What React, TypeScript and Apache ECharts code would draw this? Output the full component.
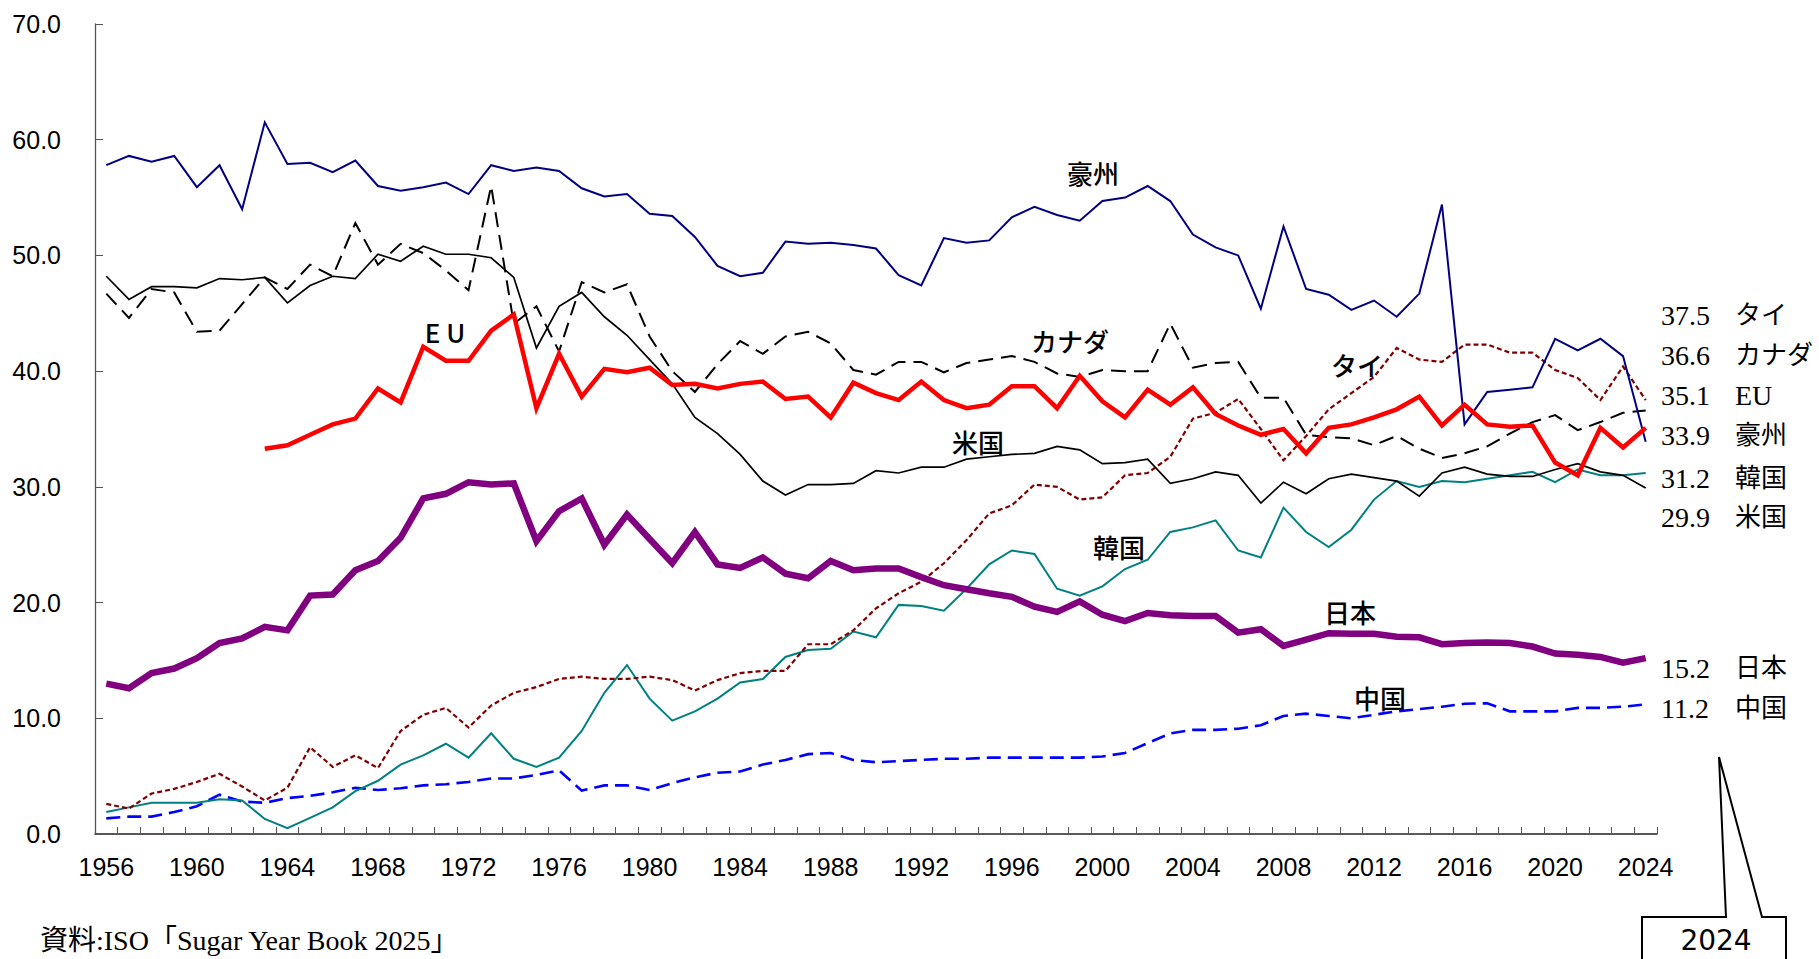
import React, { useEffect, useRef } from "react";
import * as echarts from "echarts";

const years = [
  "1956","1957","1958","1959","1960","1961","1962","1963","1964","1965",
  "1966","1967","1968","1969","1970","1971","1972","1973","1974","1975",
  "1976","1977","1978","1979","1980","1981","1982","1983","1984","1985",
  "1986","1987","1988","1989","1990","1991","1992","1993","1994","1995",
  "1996","1997","1998","1999","2000","2001","2002","2003","2004","2005",
  "2006","2007","2008","2009","2010","2011","2012","2013","2014","2015",
  "2016","2017","2018","2019","2020","2021","2022","2023","2024",
];

const australia = [
  57.8, 58.6, 58.1, 58.6, 55.9, 57.8, 54.0, 61.5, 57.9, 58.0,
  57.2, 58.2, 56.0, 55.6, 55.9, 56.3, 55.3, 57.8, 57.3, 57.6,
  57.3, 55.8, 55.1, 55.3, 53.6, 53.4, 51.6, 49.1, 48.2, 48.5,
  51.2, 51.0, 51.1, 50.9, 50.6, 48.3, 47.4, 51.5, 51.1, 51.3,
  53.3, 54.2, 53.5, 53.0, 54.7, 55.0, 56.0, 54.7, 51.8, 50.7,
  50.0, 45.4, 52.5, 47.1, 46.6, 45.3, 46.1, 44.7, 46.7, 54.4,
  35.4, 38.2, 38.4, 38.6, 42.8, 41.8, 42.8, 41.3, 33.9,
];

const canada = [
  46.7, 44.6, 47.1, 46.8, 43.4, 43.5, 45.8, 48.1, 47.1, 49.2,
  48.2, 52.8, 49.2, 51.0, 50.2, 48.7, 47.0, 56.0, 44.1, 45.6,
  41.7, 47.7, 46.8, 47.5, 43.0, 40.0, 38.2, 40.6, 42.6, 41.5,
  43.0, 43.4, 42.4, 40.1, 39.7, 40.8, 40.8, 39.9, 40.7, 41.0,
  41.3, 40.8, 39.8, 39.5, 40.1, 40.0, 40.0, 44.1, 40.3, 40.7,
  40.8, 37.7, 37.7, 34.5, 34.3, 34.2, 33.6, 34.4, 33.3, 32.5,
  32.9, 33.5, 34.6, 35.6, 36.2, 34.9, 35.6, 36.4, 36.6,
];

const eu = [
  null, null, null, null, null, null, null, 33.3, 33.6, 34.5,
  35.4, 35.9, 38.5, 37.3, 42.1, 40.9, 40.9, 43.5, 44.9, 36.8,
  41.5, 37.8, 40.2, 39.9, 40.3, 38.8, 38.9, 38.5, 38.9, 39.1,
  37.6, 37.8, 36.0, 39.0, 38.1, 37.5, 39.1, 37.5, 36.8, 37.1,
  38.7, 38.7, 36.8, 39.6, 37.4, 36.0, 38.4, 37.1, 38.6, 36.3,
  35.3, 34.5, 35.0, 32.9, 35.1, 35.4, 36.0, 36.7, 37.8, 35.3,
  37.1, 35.4, 35.2, 35.3, 32.1, 31.0, 35.1, 33.4, 35.1,
];

const usa = [
  48.2, 46.2, 47.3, 47.3, 47.2, 48.0, 47.9, 48.1, 45.9, 47.4,
  48.2, 48.0, 50.1, 49.5, 50.8, 50.1, 50.1, 49.8, 48.1, 42.0,
  45.6, 46.8, 44.7, 43.1, 41.0, 38.9, 36.0, 34.6, 32.8, 30.5,
  29.3, 30.2, 30.2, 30.3, 31.4, 31.2, 31.7, 31.7, 32.4, 32.6,
  32.8, 32.9, 33.5, 33.2, 32.0, 32.1, 32.4, 30.3, 30.7, 31.3,
  31.0, 28.6, 30.4, 29.4, 30.7, 31.1, 30.8, 30.5, 29.2, 31.2,
  31.7, 31.1, 30.9, 30.9, 31.5, 32.0, 31.3, 31.0, 29.9,
];

const thailand = [
  2.6, 2.2, 3.5, 3.9, 4.5, 5.2, 4.1, 2.9, 4.0, 7.5,
  5.8, 6.8, 5.7, 8.9, 10.3, 10.9, 9.2, 11.1, 12.2, 12.7,
  13.4, 13.6, 13.4, 13.4, 13.6, 13.3, 12.4, 13.3, 13.9, 14.1,
  14.1, 16.4, 16.4, 17.6, 19.5, 20.8, 21.8, 23.4, 25.4, 27.7,
  28.4, 30.2, 30.0, 28.9, 29.1, 31.0, 31.2, 32.6, 35.9, 36.4,
  37.6, 35.0, 32.3, 34.4, 36.7, 38.1, 39.5, 42.0, 41.0, 40.8,
  42.3, 42.3, 41.6, 41.6, 40.1, 39.4, 37.5, 40.4, 37.5,
];

const korea = [
  1.9, 2.3, 2.7, 2.7, 2.7, 3.0, 2.9, 1.3, 0.5, 1.4,
  2.3, 3.7, 4.6, 6.0, 6.8, 7.8, 6.6, 8.7, 6.5, 5.8,
  6.6, 8.9, 12.2, 14.6, 11.7, 9.8, 10.6, 11.7, 13.1, 13.4,
  15.3, 15.9, 16.0, 17.5, 17.0, 19.8, 19.7, 19.3, 21.2, 23.3,
  24.5, 24.2, 21.2, 20.6, 21.4, 22.9, 23.7, 26.1, 26.5, 27.1,
  24.5, 23.9, 28.2, 26.1, 24.8, 26.3, 28.9, 30.5, 30.0, 30.5,
  30.4, 30.7, 31.0, 31.3, 30.4, 31.5, 31.0, 31.0, 31.2,
];

const japan = [
  13.0, 12.6, 13.9, 14.3, 15.2, 16.5, 16.9, 17.9, 17.6, 20.6,
  20.7, 22.8, 23.6, 25.6, 29.0, 29.4, 30.4, 30.2, 30.3, 25.3,
  27.9, 29.0, 25.0, 27.6, 25.5, 23.4, 26.1, 23.3, 23.0, 23.9,
  22.5, 22.1, 23.6, 22.8, 22.95, 22.95, 22.2, 21.5, 21.15, 20.8,
  20.5, 19.65, 19.2, 20.1, 18.95, 18.4, 19.1, 18.9, 18.85, 18.85,
  17.4, 17.7, 16.25, 16.8, 17.35, 17.3, 17.3, 17.05, 17.0, 16.4,
  16.5, 16.55, 16.5, 16.2, 15.6, 15.5, 15.3, 14.8, 15.2,
];

const china = [
  1.35, 1.5, 1.5, 1.9, 2.4, 3.4, 2.8, 2.7, 3.1, 3.3,
  3.6, 4.0, 3.8, 3.95, 4.2, 4.3, 4.5, 4.8, 4.8, 5.1,
  5.5, 3.75, 4.2, 4.2, 3.8, 4.4, 4.9, 5.3, 5.4, 6.0,
  6.4, 6.9, 7.0, 6.4, 6.2, 6.3, 6.4, 6.5, 6.5, 6.6,
  6.6, 6.6, 6.6, 6.6, 6.7, 7.0, 7.85, 8.7, 9.0, 9.0,
  9.1, 9.4, 10.2, 10.4, 10.2, 10.0, 10.3, 10.6, 10.8, 11.0,
  11.25, 11.3, 10.6, 10.6, 10.6, 10.9, 10.9, 11.0, 11.2,
];

// Labels inside the plot: [text, x, y]
const inlineLabels: [string, number, number][] = [
  ["豪州", 1093, 172],
  ["カナダ", 1070, 340],
  ["E U", 445, 331],
  ["米国", 978, 441],
  ["タイ", 1357, 364],
  ["韓国", 1119, 546],
  ["日本", 1350, 611],
  ["中国", 1380, 697],
];

// Right-hand summary labels
const endValues = ["37.5", "36.6", "35.1", "33.9", "31.2", "29.9", "15.2", "11.2"];
const endNames = ["タイ", "カナダ", "EU", "豪州", "韓国", "米国", "日本", "中国"];
const endY = [315, 355, 395, 435, 478, 517, 668, 708];

const sourceText = "資料:ISO「Sugar Year Book 2025」";
const calloutText = "2024";

const sans = "'Liberation Sans', Arial, sans-serif";
const gothic = "'Noto Sans CJK JP', 'Noto Sans', sans-serif";
const serif = "'Liberation Serif', 'Times New Roman', 'Noto Sans CJK JP', serif";

export default function App() {
  const ref = useRef<HTMLDivElement>(null);

  useEffect(() => {
    if (!ref.current) return;
    const chart = echarts.init(ref.current, null, { renderer: "svg" });

    const graphics: any[] = [];
    inlineLabels.forEach(([t, x, y]) => {
      graphics.push({
        type: "text",
        x,
        y,
        silent: true,
        style: {
          text: t,
          fill: "#000",
          fontSize: 26,
          fontWeight: 500,
          fontFamily: gothic,
          align: "center",
          verticalAlign: "middle",
        },
      });
    });
    endValues.forEach((v, i) => {
      graphics.push({
        type: "text",
        x: 1661,
        y: endY[i],
        silent: true,
        style: {
          text: v,
          fill: "#000",
          fontSize: 28,
          fontFamily: serif,
          align: "left",
          verticalAlign: "middle",
        },
      });
      graphics.push({
        type: "text",
        x: 1735,
        y: endY[i],
        silent: true,
        style: {
          text: endNames[i],
          fill: "#000",
          fontSize: endNames[i] === "EU" ? 28 : 26,
          fontFamily: serif,
          align: "left",
          verticalAlign: "middle",
        },
      });
    });
    graphics.push({
      type: "text",
      x: 40,
      y: 940,
      silent: true,
      style: {
        text: sourceText,
        fill: "#000",
        fontSize: 28,
        fontFamily: serif,
        align: "left",
        verticalAlign: "middle",
      },
    });
    graphics.push({
      type: "polygon",
      silent: true,
      shape: {
        points: [
          [1642, 965],
          [1642, 917],
          [1726, 917],
          [1719, 757],
          [1762, 917],
          [1786, 917],
          [1786, 965],
        ],
      },
      style: { fill: "#fff", stroke: "#000", lineWidth: 2 },
    });
    graphics.push({
      type: "text",
      x: 1716,
      y: 940,
      silent: true,
      style: {
        text: calloutText,
        fill: "#000",
        fontSize: 28,
        fontFamily: "'DejaVu Sans', sans-serif",
        align: "center",
        verticalAlign: "middle",
      },
    });

    const line = (name: string, data: any[], color: string, width: number, type: any, z: number) => ({
      name,
      type: "line",
      data,
      showSymbol: false,
      symbol: "none",
      silent: true,
      connectNulls: false,
      z,
      lineStyle: { color, width, type, join: "miter", cap: "butt" },
      itemStyle: { color },
    });

    chart.setOption({
      animation: false,
      backgroundColor: "#fff",
      grid: { left: 95, right: 162, top: 24, bottom: 125, containLabel: false },
      xAxis: {
        type: "category",
        data: years,
        boundaryGap: true,
        axisLine: { show: true, lineStyle: { color: "#222", width: 1.5 } },
        axisTick: { show: true, inside: true, interval: 0, length: 7, lineStyle: { color: "#555", width: 1 } },
        axisLabel: { interval: 3, fontSize: 25, fontFamily: sans, color: "#000", margin: 20 },
        splitLine: { show: false },
      },
      yAxis: {
        type: "value",
        min: 0,
        max: 70,
        interval: 10,
        axisLine: { show: true, lineStyle: { color: "#555", width: 1.3 } },
        axisTick: { show: true, inside: true, length: 8, lineStyle: { color: "#555", width: 1 } },
        axisLabel: {
          fontSize: 25,
          fontFamily: sans,
          color: "#000",
          margin: 34,
          formatter: (v: number) => v.toFixed(1),
        },
        splitLine: { show: false },
      },
      series: [
        line("中国", china, "#0000FF", 2.6, [14, 7], 2),
        line("韓国", korea, "#008080", 2, "solid", 3),
        line("タイ", thailand, "#800000", 2.2, [5, 3], 4),
        line("米国", usa, "#000000", 1.7, "solid", 5),
        line("カナダ", canada, "#000000", 2, [15, 8], 6),
        line("豪州", australia, "#000080", 2, "solid", 7),
        line("日本", japan, "#800080", 6.5, "solid", 8),
        line("EU", eu, "#FF0000", 4.5, "solid", 9),
      ],
      graphic: graphics,
    });

    return () => chart.dispose();
  }, []);

  return (
    <div
      ref={ref}
      style={{ position: "absolute", left: 0, top: 0, width: 1819, height: 959, background: "#fff" }}
    />
  );
}
